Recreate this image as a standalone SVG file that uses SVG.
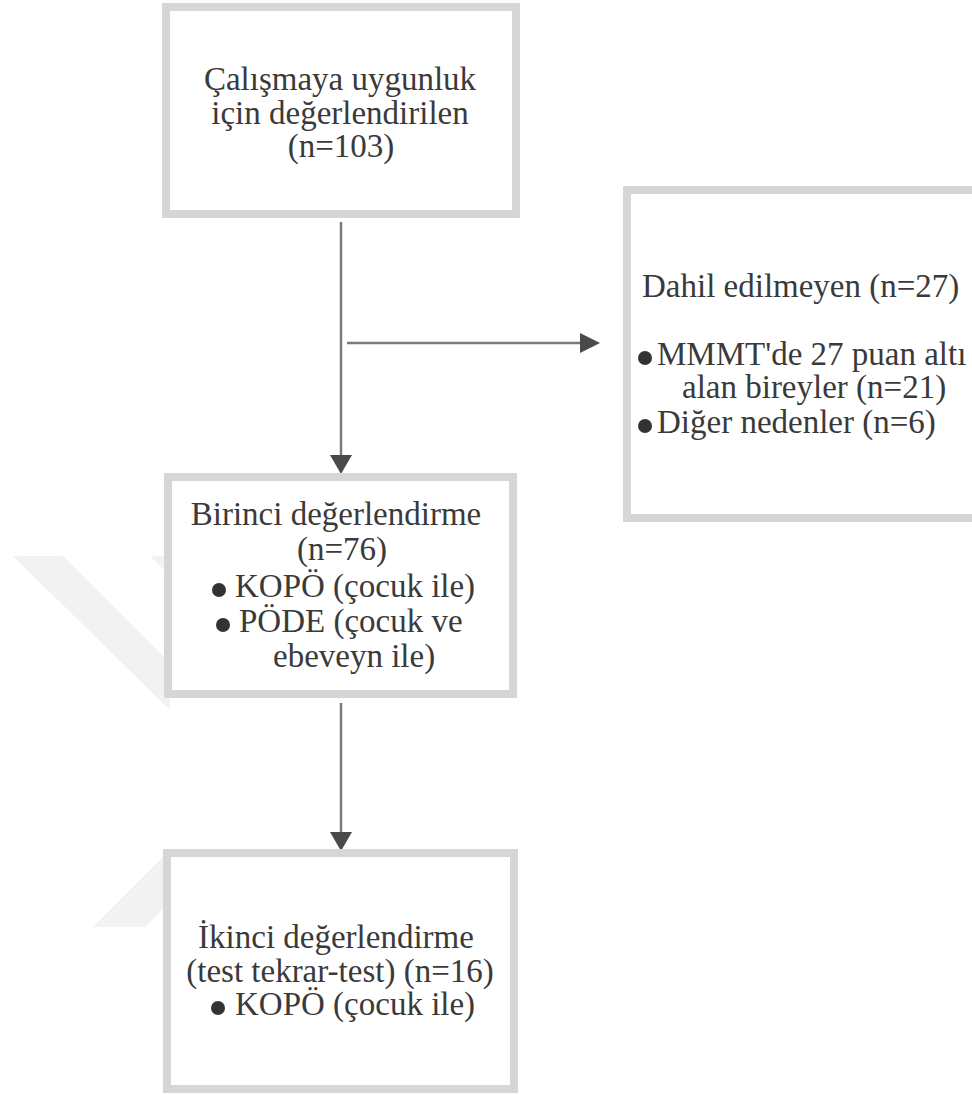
<svg xmlns="http://www.w3.org/2000/svg" width="972" height="1095" viewBox="0 0 972 1095">
<style>
.nodebox{fill:#ffffff;stroke:#d6d6d6;stroke-width:8}
.lbltxt{font-family:'Liberation Serif','Times New Roman',serif;font-size:33px;fill:#3a3a3a}
.ctrtxt{text-anchor:middle}
.connline{stroke:#7a7a7a;stroke-width:2.5;fill:none}
.arrowhd{fill:#4a4a4a}
.bulletdot{fill:#333333}
.wmark{fill:#f2f2f2}
</style>
<rect x="0" y="0" width="972" height="1095" fill="#ffffff"/>
<g id="watermark">
<polygon class="wmark" points="13,556 63,556 170,663 170,710"/>
<polygon class="wmark" points="150,556 170,556 170,576"/>
<polygon class="wmark" points="93,927 145,927 170,902 170,850"/>
</g>
<g id="connectors">
<line class="connline" x1="341" y1="222" x2="341" y2="457"/>
<polygon class="arrowhd" points="330,455 352,455 341,474"/>
<line class="connline" x1="347" y1="343" x2="582" y2="343"/>
<polygon class="arrowhd" points="580,333 580,353 600,343"/>
<line class="connline" x1="341" y1="703" x2="341" y2="834"/>
<polygon class="arrowhd" points="330,832 352,832 341,851"/>
</g>
<g id="node-assessed">
<rect class="nodebox" x="166" y="7" width="350" height="207"/>
<text class="lbltxt ctrtxt" x="340" y="90">Çalışmaya uygunluk</text>
<text class="lbltxt ctrtxt" x="340" y="124">için değerlendirilen</text>
<text class="lbltxt ctrtxt" x="341" y="157">(n=103)</text>
</g>
<g id="node-excluded">
<rect class="nodebox" x="627" y="190" width="400" height="328"/>
<text class="lbltxt" x="642" y="297">Dahil edilmeyen (n=27)</text>
<circle class="bulletdot" cx="645" cy="358" r="7"/>
<text class="lbltxt" x="657" y="365">MMMT'de 27 puan altı</text>
<text class="lbltxt" x="682" y="398">alan bireyler (n=21)</text>
<circle class="bulletdot" cx="645" cy="426" r="7"/>
<text class="lbltxt" x="657" y="433">Diğer nedenler (n=6)</text>
</g>
<g id="node-first">
<rect class="nodebox" x="168" y="477" width="345" height="217"/>
<text class="lbltxt ctrtxt" x="336" y="525">Birinci değerlendirme</text>
<text class="lbltxt ctrtxt" x="342" y="560">(n=76)</text>
<circle class="bulletdot" cx="219" cy="590" r="7"/>
<text class="lbltxt" x="235" y="597">KOPÖ (çocuk ile)</text>
<circle class="bulletdot" cx="223" cy="625" r="7"/>
<text class="lbltxt" x="239" y="632">PÖDE (çocuk ve</text>
<text class="lbltxt" x="273" y="667">ebeveyn ile)</text>
</g>
<g id="node-second">
<rect class="nodebox" x="167" y="853" width="347" height="236"/>
<text class="lbltxt ctrtxt" x="336" y="948">İkinci değerlendirme</text>
<text class="lbltxt ctrtxt" x="340" y="982">(test tekrar-test) (n=16)</text>
<circle class="bulletdot" cx="218" cy="1008" r="7"/>
<text class="lbltxt" x="235" y="1015">KOPÖ (çocuk ile)</text>
</g>
</svg>
